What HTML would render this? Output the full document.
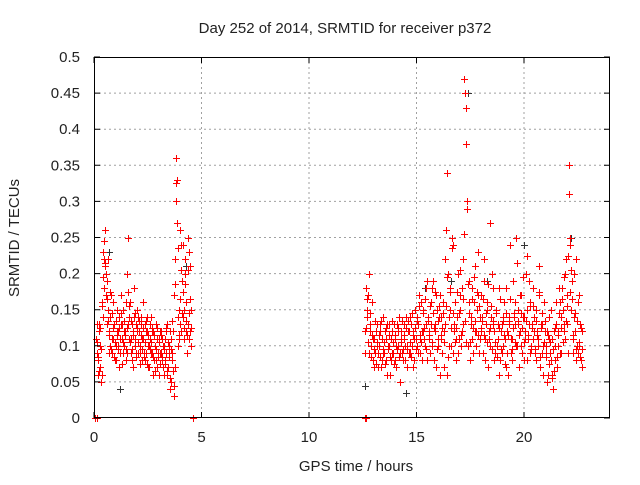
<!DOCTYPE html>
<html><head><meta charset="utf-8"><style>
body{margin:0;background:#fff;}
svg text{font-family:"Liberation Sans",sans-serif;font-size:15px;fill:#222;}
</style></head><body>
<svg id="chart" width="640" height="480" xmlns="http://www.w3.org/2000/svg">
<rect width="640" height="480" fill="#fff"/>
<g id="grid"></g>
<g id="pts"></g>
<g id="axes"></g>
<text x="345" y="33" text-anchor="middle">Day 252 of 2014, SRMTID for receiver p372</text>
<text x="356" y="471" text-anchor="middle">GPS time / hours</text>
<text x="19" y="238" text-anchor="middle" transform="rotate(-90 19 238)">SRMTID / TECUs</text>
</svg>
<script>
const xTicks=[0,5,10,15,20];
const yTicks=[0,0.05,0.1,0.15,0.2,0.25,0.3,0.35,0.4,0.45,0.5];
const yTickLabels=["0","0.05","0.1","0.15","0.2","0.25","0.3","0.35","0.4","0.45","0.5"];
const segAStart=0.1, segAStep=0.05;
const segA1=[.11,.13,.08,.12,.07,.06,.14,.22,.26,.20,.19,.15,.12,.10,.17,.09,.11,.13,.08,.12,.10,.14,.09,.13,.11,.15,.10,.12,.16,.09,.25,.14,.11,.08,.12,.18,.10,.13,.15,.09,.12,.10,.14,.08,.11,.13,.09,.12,.10,.07,.11,.14,.09,.12,.08,.10,.13,.07,.11,.09,.12,.08,.10,.06,.11,.09,.13,.07,.10,.12,.05,.09,.17,.22,.30,.33,.14,.11,.26,.12,.19,.24,.15,.22,.12,.25,.11,.21,.10];
const segA2=[.09,.06,.13,.10,.05,.16,.23,.18,.21,.17,.13,.22,.09,.14,.11,.16,.13,.08,.10,.15,.12,.07,.11,.17,.13,.09,.12,.08,.20,.13,.11,.16,.09,.13,.07,.14,.11,.09,.12,.14,.09,.13,.11,.16,.09,.08,.12,.14,.07,.10,.13,.09,.12,.06,.10,.08,.11,.09,.06,.12,.09,.11,.07,.10,.08,.12,.06,.09,.04,.11,.08,.12,.03,.07,.36,.27,.10,.15,.13,.24,.14,.11,.20,.16,.09,.13,.23,.12,.15];
const segA3=[.105,.085,.065,.125,.095,.155,.195,.245,.215,.165,.135,.115,.175,.095,.145,.125,.085,.105,.135,.115,.095,.125,.145,.075,.105,.135,.115,.095,.125,.175,.155,.105,.135,.095,.115,.145,.085,.125,.105,.135,.075,.115,.095,.125,.085,.105,.135,.075,.115,.095,.105,.125,.085,.115,.065,.095,.125,.085,.105,.075,.115,.085,.095,.075,.125,.065,.105,.085,.055,.095,.135,.065,.045,.185,.325,.235,.115,.165,.205,.145,.175,.125,.185,.135,.115,.205,.145,.165,.125];
const segBStart=12.6, segBStep=0.06;
const segB1=[.09,.18,.14,.20,.12,.10,.08,.11,.09,.13,.07,.10,.12,.08,.14,.09,.11,.06,.10,.13,.08,.12,.09,.11,.07,.13,.10,.05,.12,.09,.11,.08,.14,.10,.12,.09,.13,.07,.11,.15,.10,.13,.17,.09,.12,.15,.11,.18,.08,.14,.12,.16,.10,.19,.13,.07,.15,.11,.17,.14,.09,.12,.22,.26,.06,.14,.18,.10,.24,.13,.16,.08,.20,.11,.15,.12,.22,.47,.38,.30,.10,.16,.13,.18,.09,.21,.12,.15,.23,.11,.17,.14,.19,.08,.13,.16,.11,.27,.14,.18,.12,.09,.15,.11,.18,.08,.13,.10,.16,.07,.12,.06,.14,.09,.11,.19,.13,.25,.10,.15,.12,.17,.09,.14,.11,.20,.08,.13,.16,.10,.18,.12,.09,.15,.11,.21,.07,.13,.10,.16,.09,.12,.06,.14,.08,.11,.04,.10,.13,.07,.12,.16,.09,.18,.13,.11,.22,.17,.31,.24,.15,.09,.20,.12,.08,.16,.10,.13,.07];
const segB2=[.12,.15,.17,.09,.13,.16,.11,.07,.12,.10,.09,.13,.07,.11,.09,.12,.08,.13,.10,.06,.11,.09,.13,.08,.10,.12,.14,.09,.11,.08,.13,.10,.07,.12,.09,.14,.10,.12,.08,.11,.14,.09,.11,.16,.08,.12,.10,.13,.19,.11,.09,.13,.18,.08,.12,.17,.10,.14,.06,.11,.16,.07,.13,.34,.20,.10,.15,.25,.09,.12,.11,.14,.09,.17,.10,.18,.13,.45,.43,.29,.19,.08,.14,.11,.16,.12,.10,.17,.09,.14,.12,.09,.22,.11,.15,.07,.12,.10,.20,.13,.08,.15,.10,.13,.06,.12,.09,.14,.11,.18,.09,.13,.24,.11,.08,.14,.16,.10,.13,.07,.17,.10,.14,.08,.12,.15,.11,.19,.09,.13,.11,.14,.08,.12,.10,.17,.13,.09,.06,.12,.10,.05,.11,.09,.15,.06,.12,.08,.16,.10,.18,.09,.14,.15,.12,.20,.13,.09,.35,.25,.19,.11,.14,.22,.10,.09,.17,.08,.12];
const segB3=[.125,.165,.105,.145,.085,.115,.095,.135,.075,.105,.115,.085,.135,.095,.105,.075,.125,.095,.115,.085,.135,.105,.075,.115,.095,.125,.085,.105,.135,.095,.115,.125,.095,.135,.105,.085,.145,.115,.125,.095,.135,.155,.115,.105,.145,.125,.165,.095,.135,.115,.155,.105,.145,.125,.175,.095,.135,.155,.115,.125,.145,.105,.155,.195,.085,.175,.125,.235,.145,.105,.125,.175,.145,.205,.115,.165,.255,.135,.105,.185,.145,.105,.165,.125,.195,.135,.175,.115,.155,.125,.135,.165,.115,.145,.105,.185,.125,.155,.095,.135,.105,.145,.085,.125,.165,.095,.135,.115,.075,.145,.115,.135,.165,.095,.125,.145,.105,.215,.135,.115,.145,.125,.195,.105,.135,.225,.115,.155,.095,.125,.155,.095,.135,.115,.175,.085,.125,.145,.105,.135,.085,.115,.075,.105,.055,.095,.065,.125,.085,.115,.145,.125,.165,.105,.195,.135,.155,.225,.175,.205,.165,.115,.145,.095,.135,.105,.085,.125,.095];
const blackT=[0.7,1.2,4.3,12.6,14.5,15.4,16.6,17.4,18.3,20.0,22.2];
const blackV=[0.23,0.04,0.21,0.045,0.035,0.18,0.19,0.45,0.19,0.24,0.25];
const zeroT=[0.05,0.15,4.6,12.6,12.65];

const L=94,R=610,T=57,B=418,XMAX=24,YMAX=0.5;
const X=t=>L+t/XMAX*(R-L);
const Y=v=>B-v/YMAX*(B-T);
const NS="http://www.w3.org/2000/svg";
function mk(tag,attrs,parent){const e=document.createElementNS(NS,tag);for(const k in attrs)e.setAttribute(k,attrs[k]);parent.appendChild(e);return e;}
const grid=document.getElementById('grid'),axes=document.getElementById('axes'),pts=document.getElementById('pts');
yTicks.forEach((v,i)=>{
  if(i>0&&i<yTicks.length-1){const g=mk('line',{x1:L,x2:R,y1:Y(v),y2:Y(v),stroke:'#a0a0a0','stroke-dasharray':'2,3'},grid);
  
  }
  const tk=mk('path',{d:`M${L},${Y(v)}h6M${R},${Y(v)}h-6`,stroke:'#000'},axes);
  
  
  const tx=mk('text',{x:L-14,y:Y(v)+5,'text-anchor':'end'},axes);tx.textContent=yTickLabels[i];
  
  
});
xTicks.forEach(t=>{
  if(t>0){const g=mk('line',{x1:X(t),x2:X(t),y1:T,y2:B,stroke:'#a0a0a0','stroke-dasharray':'2,3'},grid);
  
  }
  const tk=mk('path',{d:`M${X(t)},${B}v-6M${X(t)},${T}v6`,stroke:'#000'},axes);
  
  
  const tx=mk('text',{x:X(t),y:B+24,'text-anchor':'middle'},axes);tx.textContent=String(t);
  
  
});
const fr=mk('rect',{x:L+0.5,y:T+0.5,width:R-L-1,height:B-T-1,fill:'none',stroke:'#000'},axes);


let dRed='',dBlk='';
const plus=(t,v)=>{const x=Math.round(X(t))+0.5,y=Math.round(Y(v))+0.5;return `M${x-3.5},${y}h7M${x},${y-3.5}v7`;};
segA1.forEach((v,i)=>dRed+=plus(segAStart+i*segAStep,v));
segA2.forEach((v,i)=>dRed+=plus(segAStart+i*segAStep+0.017,v));
segA3.forEach((v,i)=>dRed+=plus(segAStart+i*segAStep+0.034,v));
segB1.forEach((v,i)=>dRed+=plus(segBStart+i*segBStep,v));
segB2.forEach((v,i)=>dRed+=plus(segBStart+i*segBStep+0.02,v));
segB3.forEach((v,i)=>dRed+=plus(segBStart+i*segBStep+0.04,v));
blackT.forEach((t,i)=>dBlk+=plus(t,blackV[i]));
zeroT.forEach(t=>dRed+=plus(t,0));
const pb=mk('path',{d:dBlk,stroke:'#333','stroke-width':1,fill:'none'},pts);


const pr=mk('path',{d:dRed,stroke:'#ff0000','stroke-width':1,fill:'none'},pts);


</script>
</body></html>
